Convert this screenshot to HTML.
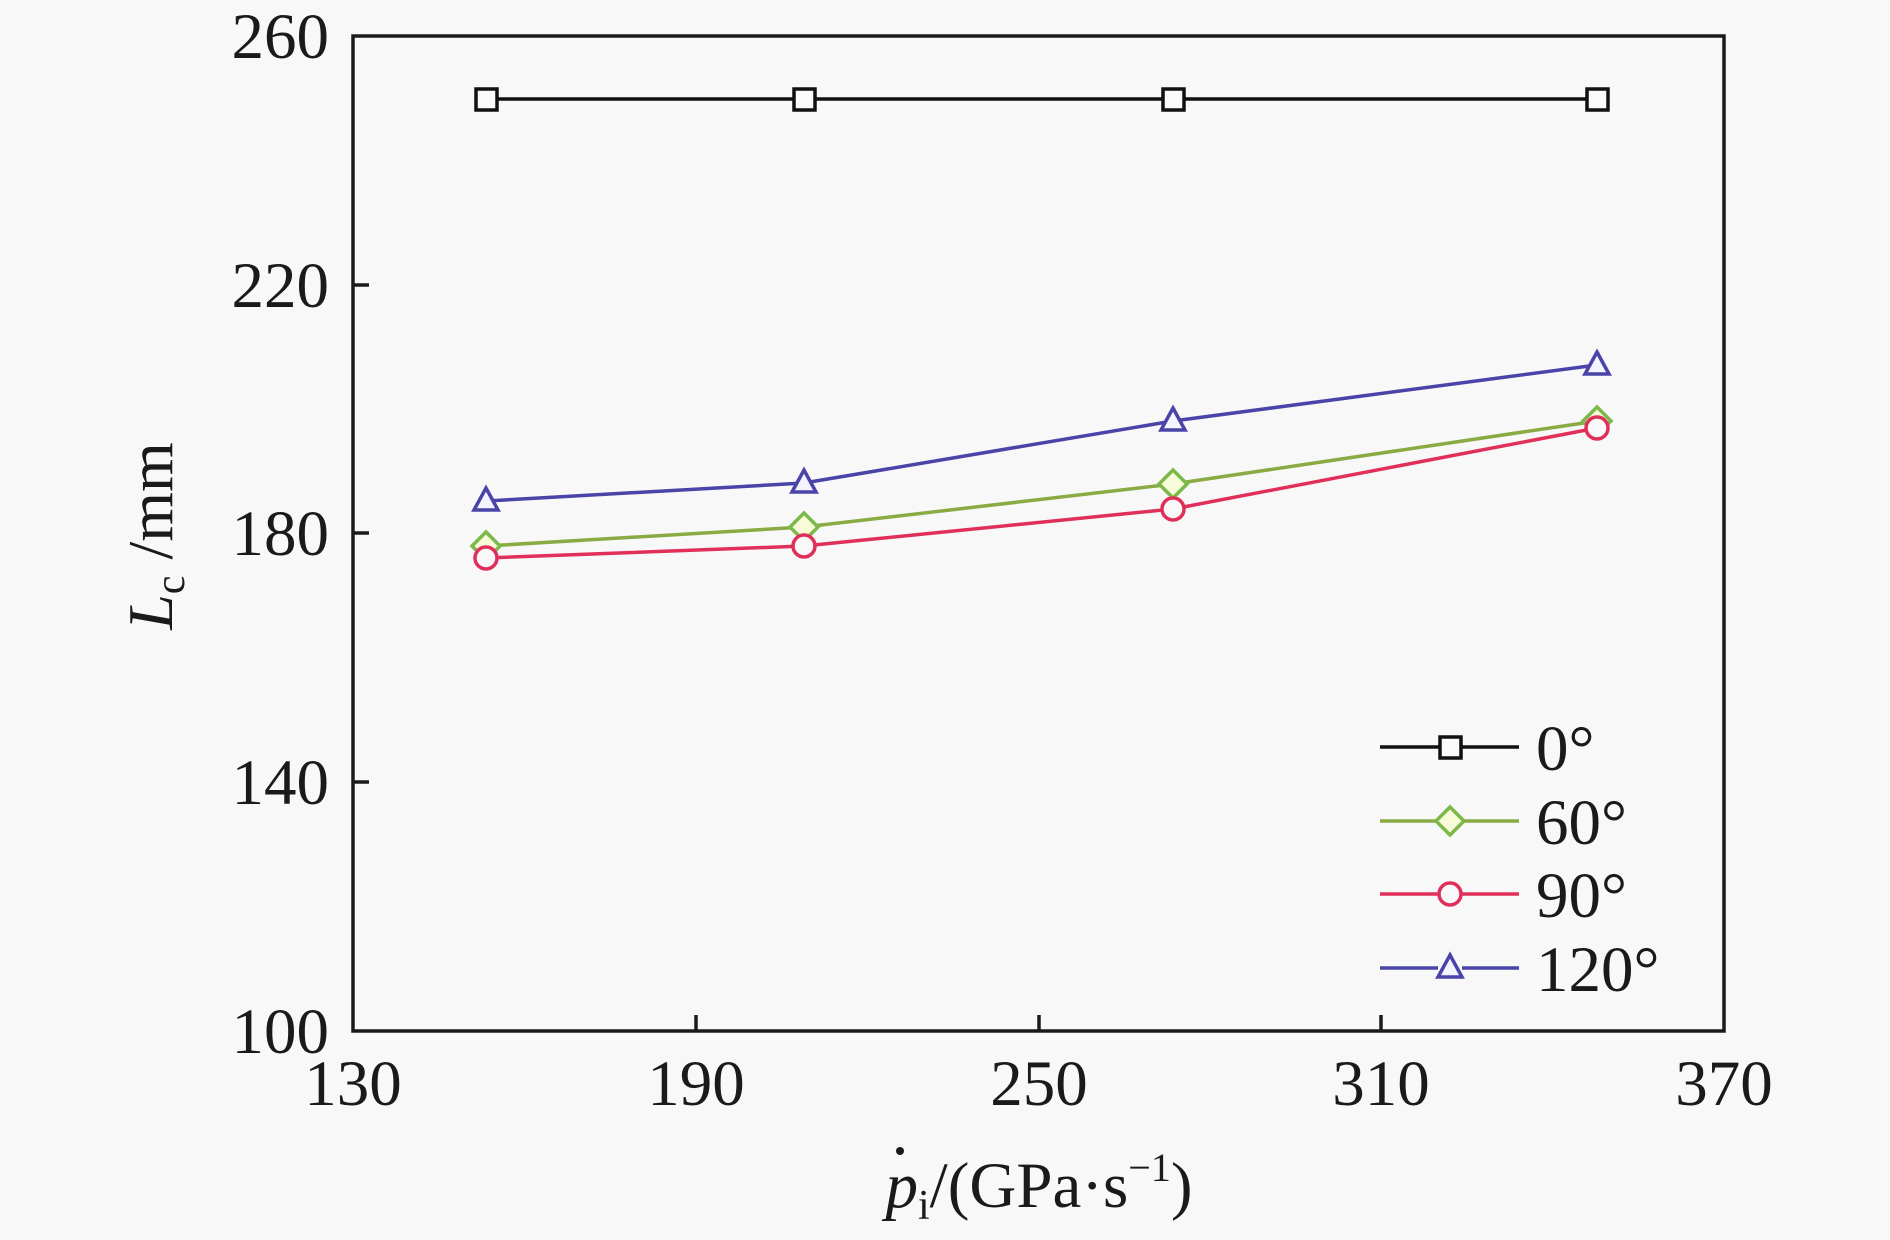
<!DOCTYPE html>
<html><head><meta charset="utf-8"><style>
html,body{margin:0;padding:0;background:#f8f8f8;}
svg{display:block;font-family:"Liberation Serif",serif;}
</style></head><body>
<svg width="1890" height="1240" viewBox="0 0 1890 1240" xmlns="http://www.w3.org/2000/svg">
<rect width="1890" height="1240" fill="#f8f8f8"/>
<g stroke="#1a1a1a" stroke-width="3.5" fill="none">
<rect x="353" y="36" width="1371" height="995"/>
<path d="M353 285h16M353 533h16M353 782h16M696 1031v-16M1039 1031v-16M1381 1031v-16"/>
</g>
<g font-size="65" fill="#1a1a1a" text-anchor="end">
<text x="329" y="58">260</text><text x="329" y="307">220</text><text x="329" y="555">180</text>
<text x="329" y="804">140</text><text x="329" y="1053">100</text>
</g>
<g font-size="65" fill="#1a1a1a" text-anchor="middle">
<text x="353" y="1105">130</text><text x="696" y="1105">190</text><text x="1039" y="1105">250</text>
<text x="1381" y="1105">310</text><text x="1724" y="1105">370</text>
<text x="1039" y="1207"><tspan font-style="italic">p</tspan><tspan font-size="42" dy="12">i</tspan><tspan dy="-12">/(GPa·s</tspan><tspan font-size="40" dy="-26">−1</tspan><tspan dy="26">)</tspan></text>
</g>
<circle cx="900" cy="1151" r="4" fill="#1a1a1a"/>
<text transform="translate(172,536) rotate(-90)" font-size="64" fill="#1a1a1a" text-anchor="middle"><tspan font-style="italic">L</tspan><tspan font-size="42" dy="12">c</tspan><tspan dy="-12"> /mm</tspan></text>
<polyline points="486,99 804,99 1173,99 1597,99" fill="none" stroke="#111" stroke-width="3.5"/>
<polyline points="486,546 804,527 1173,484 1597,421" fill="none" stroke="#8aaa44" stroke-width="3.5"/>
<polyline points="486,558 804,546 1173,509 1597,428" fill="none" stroke="#e0305a" stroke-width="3.5"/>
<polyline points="486,501 804,483 1173,421 1597,365" fill="none" stroke="#4a44a8" stroke-width="3.5"/>
<g fill="#fafafa" stroke="#111" stroke-width="3.5">
<rect x="476" y="89" width="21" height="21"/><rect x="794" y="89" width="21" height="21"/><rect x="1163" y="89" width="21" height="21"/><rect x="1587" y="89" width="21" height="21"/>
<rect x="1440" y="737" width="21" height="21"/>
</g>
<g fill="#f8fbd8" stroke="#7cb94a" stroke-width="3.5">
<path d="M486 532l14 14-14 14-14-14z"/><path d="M804 513l14 14-14 14-14-14z"/><path d="M1173 470l14 14-14 14-14-14z"/><path d="M1597 407l14 14-14 14-14-14z"/>
<path d="M1450 807l14 14-14 14-14-14z"/>
</g>
<g fill="#f8f8f8" stroke="#e0305a" stroke-width="3.5">
<circle cx="486" cy="558" r="11"/><circle cx="804" cy="546" r="11"/><circle cx="1173" cy="509" r="11"/><circle cx="1597" cy="428" r="11"/>
<circle cx="1450" cy="894" r="11"/>
</g>
<g fill="#f4f4ff" stroke="#4a44a8" stroke-width="3.5">
<path d="M486 488l12 22h-24z"/><path d="M804 470l12 22h-24z"/><path d="M1173 408l12 22h-24z"/><path d="M1597 352l12 22h-24z"/>
<path d="M1450 955l12 22h-24z"/>
</g>
<g stroke-width="3.5">
<path d="M1380 747h60M1461 747h58" stroke="#111"/>
<path d="M1380 821h56M1464 821h55" stroke="#8aaa44"/>
<path d="M1380 894h59M1461 894h58" stroke="#e0305a"/>
<path d="M1380 968h58M1462 968h57" stroke="#4a44a8"/>
</g>
<g font-size="65" fill="#1a1a1a">
<text x="1536" y="770">0°</text><text x="1536" y="844">60°</text><text x="1536" y="917">90°</text><text x="1536" y="991">120°</text>
</g>
</svg>
</body></html>
